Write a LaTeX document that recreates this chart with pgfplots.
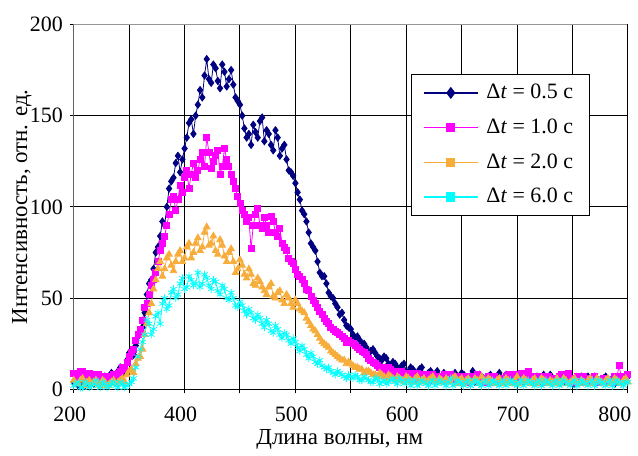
\documentclass[border=0pt]{standalone}
\usepackage{pgfplots}
\pgfplotsset{compat=1.18}
\usepackage{fontspec}
\setmainfont{Liberation Serif}
\definecolor{cnavy}{RGB}{0,0,128}
\definecolor{cmag}{RGB}{255,0,255}
\definecolor{corange}{RGB}{247,173,60}
\definecolor{ccyan}{RGB}{0,255,255}
\definecolor{cframe}{RGB}{150,150,150}
\begin{document}
\begin{tikzpicture}
\begin{axis}[
  scale only axis, width=278pt, height=183.1pt,
  xmin=300, xmax=800, ymin=0, ymax=200,
  xtick={300,350,...,750},
  xticklabels={200,,400,,500,,600,,700,},
  extra x ticks={800}, extra x tick labels={800},
  extra x tick style={xticklabel style={xshift=-4.5pt}},
  ytick={0,50,...,200},
  grid=major,
  major grid style={black, line width=0.5pt},
  axis line style={cframe, line width=0.6pt},
  tick style={black, line width=0.5pt},
  major tick length=2pt,
  tick align=outside,
  xtick pos=bottom, ytick pos=left,
  /pgf/number format/assume math mode=true,
  tick label style={font=\fontsize{11}{12}\selectfont},
  xticklabel style={xshift=-2pt, yshift=-3.2pt},
  label style={font=\fontsize{11.5}{13}\selectfont},
  xlabel={Длина волны, нм},
  ylabel={Интенсивность, отн. ед.},
  xlabel style={at={(axis description cs:0.48,-0.136)}, anchor=center},
  ylabel style={at={(axis description cs:-0.0935,0.5)}, anchor=center},
  legend style={at={(rel axis cs:0.608,0.865)}, anchor=north west,
    draw=black, line width=0.5pt, fill=white,
    font=\fontsize{11}{13}\selectfont,
    inner xsep=6pt, inner ysep=3pt, row sep=4.6pt,
    /tikz/every odd column/.append style={column sep=2pt},
    cells={anchor=west}},
  legend image code/.code={\draw[mark repeat=2, mark phase=2, #1] plot coordinates {(0pt,0pt) (13.5pt,0pt) (27pt,0pt)};},
]
\draw[black, line width=0.6pt] (rel axis cs:0,1) -- (rel axis cs:0,0) -- (rel axis cs:1,0);

\addplot[cnavy, line width=0.4pt, mark=diamond*, mark size=1.8pt, mark options={solid}, forget plot] coordinates {
(300,4)(302,6)(304,2)(306,3)(308,5)(310,2)(312,3)(314,7)(316,6)(318,3)(320,4)(322,6)(324,3)(326,4)(328,7)(330,4)(332,5)(334,9)(336,8)(338,6)(340,10)(342,12)(344,9)(346,11)(348,16)(350,20)(352,19)(354,19)(356,24)(358,29)(360,31)(362,34)(364,42)(366,52)(368,58)(370,60)(372,66)(374,75)(376,78)(378,84)(380,92)(382,90)(384,100)(386,110)(388,114)(390,116)(392,124)(394,128)(396,119)(398,126)(400,132)(402,138)(404,146)(406,148)(408,140)(410,150)(412,156)(414,164)(416,160)(418,172)(420,181)(422,170)(424,168)(426,178)(428,176)(430,169)(432,165)(434,178)(436,174)(438,166)(440,170)(442,175)(444,167)(446,160)(448,158)(450,156)(452,150)(454,143)(456,138)(458,140)(460,134)(462,145)(464,141)(466,138)(468,147)(470,149)(472,136)(474,142)(476,140)(478,134)(480,131)(482,142)(484,138)(486,128)(488,132)(490,134)(492,126)(494,120)(496,119)(498,117)(500,113)(502,108)(504,104)(506,98)(508,96)(510,92)(512,86)(514,80)(516,78)(518,76)(520,70)(522,64)(524,62)(526,62)(528,58)(530,53)(532,51)(534,50)(536,47)(538,45)(540,41)(542,42)(544,38)(546,35)(548,34)(550,33)(552,30)(554,28)(556,29)(558,27)(560,25)(562,25)(564,23)(566,20)(568,21)(570,22)(572,20)(574,18)(576,17)(578,16)(580,18)(582,17)(584,14)(586,13)(588,15)(590,14)(592,12)(594,11)(596,13)(598,14)(600,10)(602,9)(604,12)(606,11)(608,9)(610,8)(612,11)(614,12)(616,8)(618,7)(620,9)(622,10)(624,7)(626,8)(628,10)(630,7)(632,6)(634,9)(636,8)(638,6)(640,7)(642,8)(644,9)(646,5)(648,6)(650,9)(652,8)(654,6)(656,5)(658,7)(660,10)(662,4)(664,6)(666,8)(668,7)(670,6)(672,5)(674,7)(676,8)(678,4)(680,6)(682,7)(684,9)(686,6)(688,5)(690,8)(692,7)(694,5)(696,4)(698,6)(700,8)(702,7)(704,6)(706,4)(708,5)(710,6)(712,7)(714,5)(716,4)(718,7)(720,6)(722,5)(724,8)(726,6)(728,5)(730,8)(732,6)(734,5)(736,4)(738,6)(740,7)(742,4)(744,5)(746,7)(748,6)(750,5)(752,3)(754,4)(756,6)(758,7)(760,4)(762,5)(764,7)(766,4)(768,5)(770,7)(772,6)(774,5)(776,4)(778,6)(780,7)(782,4)(784,5)(786,6)(788,3)(790,5)(792,6)(794,4)(796,5)(798,6)(800,7)
};
\addplot[cmag, line width=0.4pt, mark=square*, mark size=1.5pt, mark options={solid}, forget plot] coordinates {
(300,9)(302,7)(304,8)(306,10)(308,10)(310,6)(312,7)(314,9)(316,8)(318,6)(320,6)(322,8)(324,7)(326,5)(328,5)(330,7)(332,6)(334,5)(336,8)(338,7)(340,9)(342,10)(344,12)(346,11)(348,15)(350,18)(352,20)(354,22)(356,27)(358,30)(360,33)(362,38)(364,45)(366,47)(368,52)(370,57)(372,60)(374,64)(376,70)(378,76)(380,80)(382,84)(384,90)(386,96)(388,104)(390,106)(392,98)(394,104)(396,112)(398,108)(400,116)(402,120)(404,110)(406,118)(408,124)(410,116)(412,120)(414,126)(416,130)(418,122)(420,138)(422,130)(424,121)(426,125)(428,128)(430,131)(432,118)(434,122)(436,132)(438,126)(440,122)(442,118)(444,114)(446,110)(448,106)(450,102)(452,98)(454,96)(456,92)(458,94)(460,77)(462,90)(464,96)(466,99)(468,90)(470,88)(472,94)(474,90)(476,86)(478,95)(480,92)(482,86)(484,84)(486,88)(488,80)(490,78)(492,76)(494,72)(496,70)(498,69)(500,66)(502,63)(504,62)(506,60)(508,58)(510,55)(512,54)(514,51)(516,49)(518,47)(520,45)(522,43)(524,41)(526,39)(528,37)(530,36)(532,34)(534,33)(536,32)(538,31)(540,30)(542,29)(544,28)(546,26)(548,27)(550,26)(552,25)(554,24)(556,23)(558,22)(560,21)(562,20)(564,19)(566,17)(568,16)(570,15)(572,14)(574,13)(576,12)(578,12)(580,11)(582,10)(584,12)(586,11)(588,9)(590,10)(592,8)(594,7)(596,10)(598,9)(600,7)(602,8)(604,9)(606,7)(608,6)(610,9)(612,8)(614,6)(616,7)(618,8)(620,5)(622,6)(624,8)(626,7)(628,6)(630,5)(632,7)(634,8)(636,5)(638,6)(640,8)(642,5)(644,6)(646,7)(648,5)(650,6)(652,7)(654,5)(656,4)(658,7)(660,6)(662,5)(664,8)(666,6)(668,5)(670,4)(672,6)(674,7)(676,4)(678,5)(680,7)(682,6)(684,5)(686,4)(688,6)(690,7)(692,8)(694,6)(696,5)(698,8)(700,7)(702,5)(704,9)(706,7)(708,6)(710,10)(712,5)(714,6)(716,7)(718,5)(720,6)(722,7)(724,4)(726,5)(728,7)(730,6)(732,5)(734,4)(736,6)(738,7)(740,8)(742,5)(744,5)(746,9)(748,6)(750,5)(752,4)(754,7)(756,5)(758,4)(760,7)(762,6)(764,4)(766,5)(768,6)(770,7)(772,5)(774,4)(776,4)(778,6)(780,6)(782,5)(784,5)(786,4)(788,7)(790,6)(792,13)(794,7)(796,6)(798,5)(800,8)
};
\addplot[corange, line width=0.4pt, mark=triangle*, mark size=1.9pt, mark options={solid}, forget plot] coordinates {
(300,5)(302,3)(304,3)(306,5)(308,6)(310,2)(312,4)(314,5)(316,3)(318,4)(320,5)(322,3)(324,2)(326,5)(328,4)(330,2)(332,3)(334,4)(336,5)(338,3)(340,4)(342,5)(344,6)(346,4)(348,8)(350,10)(352,11)(354,9)(356,14)(358,17)(360,18)(362,22)(364,30)(366,36)(368,42)(370,47)(372,55)(374,60)(376,66)(378,70)(380,62)(382,66)(384,72)(386,74)(388,68)(390,65)(392,70)(394,74)(396,76)(398,70)(400,72)(402,78)(404,80)(406,72)(408,75)(410,80)(412,83)(414,76)(416,78)(418,86)(420,89)(422,79)(424,80)(426,84)(428,76)(430,74)(432,82)(434,79)(436,73)(438,70)(440,75)(442,77)(444,70)(446,64)(448,66)(450,71)(452,68)(454,63)(456,61)(458,66)(460,63)(462,58)(464,57)(466,61)(468,59)(470,56)(472,54)(474,52)(476,56)(478,58)(480,51)(482,50)(484,53)(486,54)(488,49)(490,47)(492,52)(494,50)(496,47)(498,45)(500,49)(502,47)(504,44)(506,43)(508,42)(510,39)(512,37)(514,35)(516,33)(518,32)(520,30)(522,28)(524,26)(526,25)(528,24)(530,23)(532,21)(534,20)(536,19)(538,18)(540,17)(542,16)(544,16)(546,14)(548,15)(550,14)(552,13)(554,12)(556,12)(558,11)(560,11)(562,9)(564,10)(566,10)(568,9)(570,8)(572,8)(574,7)(576,9)(578,8)(580,7)(582,6)(584,8)(586,7)(588,6)(590,5)(592,7)(594,6)(596,5)(598,4)(600,7)(602,6)(604,5)(606,4)(608,6)(610,7)(612,4)(614,5)(616,6)(618,4)(620,5)(622,6)(624,7)(626,5)(628,4)(630,6)(632,5)(634,4)(636,6)(638,5)(640,4)(642,6)(644,7)(646,3)(648,5)(650,6)(652,3)(654,5)(656,6)(658,4)(660,4)(662,6)(664,5)(666,3)(668,7)(670,5)(672,4)(674,6)(676,5)(678,4)(680,3)(682,5)(684,6)(686,3)(688,4)(690,6)(692,5)(694,4)(696,3)(698,5)(700,7)(702,3)(704,4)(706,6)(708,5)(710,4)(712,3)(714,5)(716,6)(718,3)(720,4)(722,6)(724,5)(726,4)(728,3)(730,5)(732,4)(734,3)(736,6)(738,4)(740,3)(742,6)(744,5)(746,3)(748,4)(750,5)(752,6)(754,4)(756,3)(758,5)(760,4)(762,3)(764,5)(766,6)(768,3)(770,4)(772,6)(774,5)(776,4)(778,3)(780,5)(782,6)(784,3)(786,4)(788,6)(790,5)(792,4)(794,3)(796,5)(798,6)(800,4)
};
\addplot[ccyan, line width=0.4pt, mark=asterisk, mark size=1.9pt, mark options={solid}, forget plot] coordinates {
(300,2)(302,3)(304,4)(306,1)(308,1)(310,4)(312,3)(314,1)(316,2)(318,3)(320,5)(322,2)(324,1)(326,4)(328,3)(330,1)(332,2)(334,3)(336,4)(338,2)(340,1)(342,4)(344,3)(346,1)(348,2)(350,3)(352,4)(354,6)(356,12)(358,18)(360,22)(362,26)(364,30)(366,38)(368,36)(370,30)(372,33)(374,40)(376,42)(378,36)(380,47)(382,50)(384,44)(386,46)(388,53)(390,55)(392,50)(394,52)(396,58)(398,61)(400,55)(402,56)(404,62)(406,60)(408,57)(410,58)(412,64)(414,56)(416,58)(418,63)(420,61)(422,57)(424,55)(426,60)(428,59)(430,54)(432,52)(434,57)(436,55)(438,50)(440,49)(442,53)(444,50)(446,46)(448,45)(450,48)(452,46)(454,43)(456,41)(458,44)(460,42)(462,39)(464,38)(466,41)(468,39)(470,36)(472,34)(474,38)(476,36)(478,32)(480,31)(482,35)(484,33)(486,30)(488,28)(490,31)(492,30)(494,27)(496,25)(498,28)(500,26)(502,23)(504,21)(506,24)(508,22)(510,19)(512,17)(514,20)(516,18)(518,15)(520,14)(522,16)(524,13)(526,12)(528,11)(530,12)(532,10)(534,9)(536,8)(538,10)(540,9)(542,8)(544,7)(546,6)(548,8)(550,7)(552,6)(554,8)(556,7)(558,5)(560,5)(562,7)(564,6)(566,5)(568,4)(570,4)(572,6)(574,6)(576,3)(578,4)(580,5)(582,3)(584,4)(586,5)(588,6)(590,4)(592,3)(594,6)(596,5)(598,3)(600,4)(602,5)(604,2)(606,4)(608,5)(610,2)(612,3)(614,5)(616,4)(618,3)(620,2)(622,4)(624,5)(626,2)(628,3)(630,5)(632,4)(634,3)(636,2)(638,4)(640,6)(642,2)(644,3)(646,5)(648,4)(650,3)(652,2)(654,4)(656,5)(658,2)(660,3)(662,5)(664,4)(666,3)(668,2)(670,4)(672,5)(674,2)(676,3)(678,5)(680,4)(682,3)(684,2)(686,4)(688,5)(690,2)(692,3)(694,5)(696,4)(698,3)(700,2)(702,4)(704,5)(706,2)(708,3)(710,5)(712,4)(714,3)(716,2)(718,4)(720,5)(722,2)(724,3)(726,5)(728,4)(730,3)(732,2)(734,4)(736,5)(738,2)(740,3)(742,5)(744,4)(746,3)(748,2)(750,4)(752,5)(754,2)(756,3)(758,5)(760,4)(762,3)(764,2)(766,4)(768,5)(770,2)(772,3)(774,5)(776,4)(778,3)(780,2)(782,4)(784,5)(786,2)(788,3)(790,5)(792,4)(794,3)(796,2)(798,4)(800,4)
};

\addlegendimage{cnavy, line width=0.8pt, mark=diamond*, mark size=2.4pt, mark options={solid}}
\addlegendentry{Δ\textit{t} = 0.5 с}
\addlegendimage{cmag, line width=0.8pt, mark=square*, mark size=1.9pt, mark options={solid}}
\addlegendentry{Δ\textit{t} = 1.0 с}
\addlegendimage{corange, line width=0.8pt, mark=square*, mark size=1.9pt, mark options={solid}}
\addlegendentry{Δ\textit{t} = 2.0 с}
\addlegendimage{ccyan, line width=0.8pt, mark=square*, mark size=1.9pt, mark options={solid}}
\addlegendentry{Δ\textit{t} = 6.0 с}
\end{axis}
\path ([shift={(-37pt,-30.65pt)}]current axis.south west) rectangle ([shift={(4pt,12.25pt)}]current axis.north east);
\end{tikzpicture}
\end{document}
